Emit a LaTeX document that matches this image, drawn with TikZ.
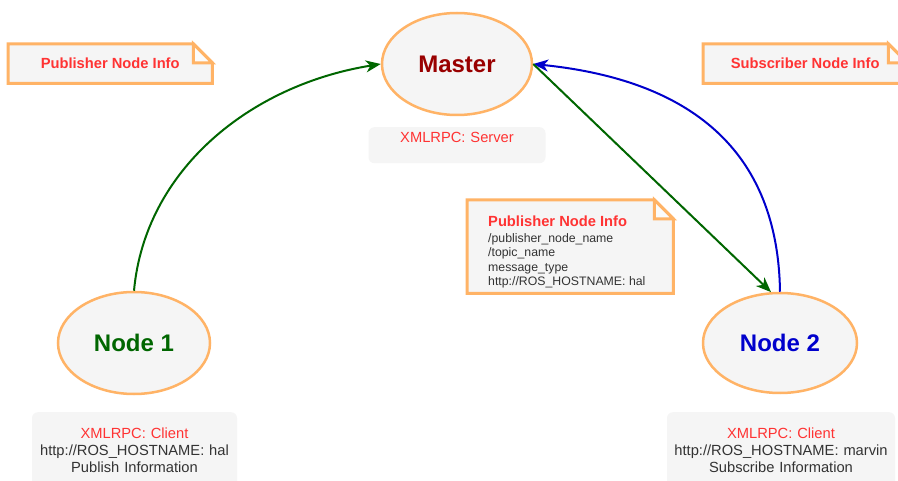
\documentclass[tikz,border=0pt]{standalone}
\usepackage{fontspec}
\setmainfont{Liberation Sans}
\usetikzlibrary{shapes.geometric,arrows.meta,backgrounds,positioning}

\definecolor{noteorange}{HTML}{FFB366}
\definecolor{boxgray}{HTML}{F5F5F5}
\definecolor{infored}{HTML}{FF3333}
\definecolor{masterred}{HTML}{990000}
\definecolor{pubgreen}{HTML}{006600}
\definecolor{subblue}{HTML}{0000CC}
\definecolor{textgray}{HTML}{333333}

\tikzset{
  rosnode/.style={ellipse, draw=noteorange, line width=2.5pt, fill=boxgray, inner sep=0pt,
    font=\fontsize{24}{28}\selectfont\bfseries},
  infobox/.style={rectangle, rounded corners=6pt, fill=boxgray, inner xsep=0pt, inner ysep=0pt,
    align=center, text=textgray, font=\fontsize{14.7}{17}\selectfont},
  notebox/.style={rectangle, inner sep=0pt, minimum height=39pt, text=infored,
    font=\fontsize{14.7}{17}\selectfont\bfseries},
  msgarrow/.style={line width=2pt, -{Stealth[length=15pt,width=12pt,inset=4.5pt]}},
}

% folded note outline, drawn behind the node
\newcommand{\dogear}[1]{%
  \begin{pgfonlayer}{background}
    \filldraw[draw=noteorange, fill=boxgray, line width=3pt, line join=miter]
      (#1.north west) -- ([xshift=-19pt]#1.north east) -- ([yshift=-19pt]#1.north east)
      -- (#1.south east) -- (#1.south west) -- cycle;
    \filldraw[draw=noteorange, fill=white!60!boxgray, line width=3pt, line join=miter]
      ([xshift=-19pt]#1.north east) -- ([xshift=-19pt,yshift=-19pt]#1.north east)
      -- ([yshift=-19pt]#1.north east) -- cycle;
  \end{pgfonlayer}}

\begin{document}
\begin{tikzpicture}[x=1pt, y=-1pt]
    \clip (0,0) rectangle (898,481);
    \begin{scope}[on background layer]
        \fill[white] (0,0) rectangle (898,481);
    \end{scope}

    % ROS nodes
    \node[rosnode, minimum width=150pt, minimum height=102pt, text=masterred] (master) at (457,64) {Master};
    \node[rosnode, minimum width=152pt, minimum height=102pt, text=pubgreen] (node1) at (134,343) {Node 1};
    \node[rosnode, minimum width=154pt, minimum height=100pt, text=subblue] (node2) at (780,343) {Node 2};

    % XMLRPC roles
    \node[infobox, anchor=north, text width=177pt, text height=15.3pt, text depth=20.7pt] (masterinfo) at (457,127)
        {\textcolor{infored}{XMLRPC: Server}};
    \node[infobox, anchor=north, text width=205pt, text height=26pt, text depth=60pt] (node1info) at (134.5,412)
        {\textcolor{infored}{XMLRPC: Client}\\http://ROS\_HOSTNAME: hal\\Publish Information};
    \node[infobox, anchor=north, text width=228pt, text height=26pt, text depth=60pt] (node2info) at (781,412)
        {\textcolor{infored}{XMLRPC: Client}\\http://ROS\_HOSTNAME: marvin\\Subscribe Information};

    % notes
    \node[notebox, minimum width=204pt, anchor=north west] (pubnote) at (8,44) {Publisher Node Info};
    \node[notebox, minimum width=204pt, anchor=north west] (subnote) at (703,44) {Subscriber Node Info};
    \node[notebox, minimum width=206pt, minimum height=93pt, anchor=north west] (msgnote) at (467,200) {};
    \node[anchor=north west, inner sep=0pt, align=left, text=textgray, font=\fontsize{12.3}{14.5}\selectfont]
        (msgtext) at ([shift={(21,15.6)}]msgnote.north west)
        {{\fontsize{14.7}{17}\selectfont\bfseries\color{infored}Publisher Node Info}\\[1.4pt]
         /publisher\_node\_name\\/topic\_name\\message\_type\\http://ROS\_HOSTNAME: hal};
    \dogear{pubnote}
    \dogear{subnote}
    \dogear{msgnote}

    % registrations
    \draw[msgarrow, pubgreen] (node1.north) .. controls (145,170) and (250,85) .. (master.west);
    \draw[msgarrow, subblue] (node2.north) .. controls (778,150) and (690,80) .. (master.east);
    \draw[msgarrow, pubgreen] (master.east) -- (node2.100);
\end{tikzpicture}
\end{document}
